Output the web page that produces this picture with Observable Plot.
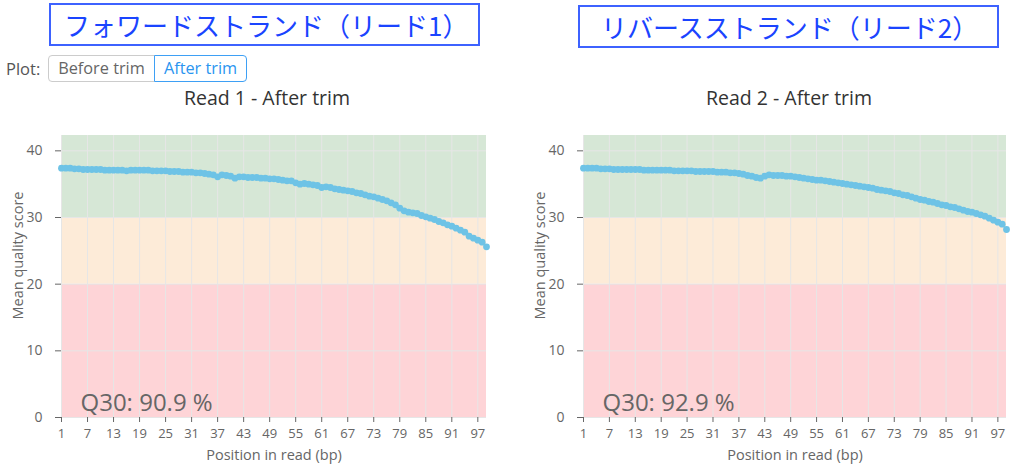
<!DOCTYPE html>
<html>
<head>
<meta charset="utf-8">
<script src="https://cdn.jsdelivr.net/npm/d3@7"></script>
<script src="https://cdn.jsdelivr.net/npm/@observablehq/plot@0.6"></script>
<style>
  body { margin: 0; background: #fff; font-family: "Open Sans", Roboto, sans-serif; }
  #page { position: relative; width: 1024px; height: 469px; overflow: hidden; background: #fff; }
  .box { position: absolute; border: 2px solid #3d62ff; color: #1a44ff; font-family: "Noto Sans CJK JP", sans-serif; font-size: 26px; line-height: 39px; box-sizing: border-box; white-space: nowrap; }
  .ptitle { position: absolute; width: 300px; text-align: center; font-size: 19.5px; color: #333; }
  .plotlbl { position: absolute; left: 6px; top: 57px; font-size: 16.5px; color: #555; }
  .btn { position: absolute; top: 55px; height: 27px; box-sizing: border-box; font-size: 16.3px; line-height: 25px; text-align: center; border: 1px solid #ccc; color: #666; background: #fff; }
  .chart { position: absolute; top: 120px; }
</style>
</head>
<body>
<div id="page">
  <div class="box" style="left:49px; top:3px; width:431px; height:43px; padding-left:13px;">フォワードストランド（リード1）</div>
  <div class="box" style="left:578px; top:5px; width:421px; height:43px; padding-left:21px;">リバースストランド（リード2）</div>
  <div class="plotlbl">Plot:</div>
  <div class="btn" style="left:48px; width:107px; border-radius:4px 0 0 4px;">Before trim</div>
  <div class="btn" style="left:154px; width:93px; border-color:#3ea0f5; color:#2a95f0; border-radius:0 4px 4px 0;">After trim</div>
  <div class="ptitle" style="left:117px; top:84px;">Read 1 - After trim</div>
  <div class="ptitle" style="left:639px; top:84px;">Read 2 - After trim</div>
  <div class="chart" id="c1" style="left:0px;"></div>
  <div class="chart" id="c2" style="left:520px;"></div>
</div>
<script>
const positions = d3.range(1, 100);
const read1 = [37.4,37.4,37.4,37.3,37.3,37.2,37.2,37.2,37.2,37.2,
  37.1,37.1,37.1,37.1,37.1,37.0,37.1,37.1,37.1,37.1,
  37.1,37.0,37.0,37.0,37.0,36.9,36.9,36.9,36.8,36.8,
  36.8,36.7,36.7,36.6,36.5,36.4,36.1,36.4,36.3,36.2,
  35.9,36.1,36.1,36.0,36.0,36.0,35.9,35.9,35.8,35.8,
  35.7,35.6,35.5,35.5,35.2,35.0,35.1,35.0,34.9,34.8,
  34.5,34.6,34.5,34.3,34.2,34.1,34.0,33.9,33.7,33.6,
  33.4,33.2,33.1,32.9,32.7,32.5,32.2,31.9,31.4,31.0,
  30.8,30.7,30.6,30.3,30.1,29.9,29.7,29.4,29.2,28.9,
  28.7,28.4,28.1,27.8,27.2,26.9,26.6,26.3,25.6];
const read2 = [37.4,37.4,37.4,37.4,37.3,37.3,37.3,37.2,37.2,37.2,
  37.2,37.2,37.2,37.2,37.1,37.1,37.1,37.1,37.1,37.1,
  37.1,37.0,37.0,37.0,37.0,37.0,36.9,36.9,36.9,36.9,
  36.9,36.8,36.8,36.8,36.7,36.7,36.6,36.5,36.3,36.2,
  36.0,35.9,36.2,36.4,36.3,36.3,36.3,36.2,36.2,36.1,
  36.0,35.9,35.8,35.7,35.6,35.6,35.5,35.4,35.3,35.2,
  35.1,35.0,34.9,34.8,34.7,34.6,34.5,34.4,34.2,34.1,
  34.0,33.9,33.7,33.6,33.4,33.3,33.1,32.9,32.7,32.6,
  32.4,32.3,32.1,31.9,31.8,31.6,31.5,31.3,31.1,30.9,
  30.8,30.6,30.4,30.2,29.9,29.6,29.3,29.0,28.2];
const xTicks = [1,7,13,19,25,31,37,43,49,55,61,67,73,79,85,91,97];
const yTicks = [0,10,20,30,40];
const zones = [
  {y1: 0, y2: 20, color: "#fed4d7"},
  {y1: 20, y2: 30, color: "#fdebd8"},
  {y1: 30, y2: 42.3, color: "#d6e7d6"}
];
const yMax = 42.3;
const q30 = ["Q30: 90.9 %", "Q30: 92.9 %"];
const xTitle = "Position in read (bp)";
const yTitle = "Mean quality score";

function makeChart(values, q, marginLeft) {
  const data = positions.map((p, i) => ({pos: p, q: values[i]}));
  return Plot.plot({
    width: 500,
    height: 347,
    marginLeft: marginLeft,
    marginRight: 14,
    marginTop: 15,
    marginBottom: 50,
    style: {fontFamily: "'Open Sans', Roboto, sans-serif", fontSize: "13px", background: "transparent"},
    x: {domain: [1, 99]},
    y: {domain: [0, yMax]},
    marks: [
      Plot.rectY(zones, {x1: 1, x2: 99, y1: "y1", y2: "y2", fill: "color"}),
      Plot.ruleX(xTicks, {stroke: "#e6e6e6", strokeWidth: 1}),
      Plot.ruleY(yTicks, {stroke: "#e6e6e6", strokeWidth: 1}),
      Plot.dot(data, {x: "pos", y: "q", r: 3.4, fill: "#6ec3e6", stroke: "none"}),
      Plot.text([q], {text: d => d, frameAnchor: "bottom-left", textAnchor: "start", lineAnchor: "bottom", dx: 19, dy: -7, fontSize: 24, fill: "#666"}),
      Plot.axisX({ticks: xTicks, tickSize: 5, tickPadding: 6, fontSize: 13, color: "#666", label: null}),
      Plot.axisY({ticks: yTicks, tickSize: 6, tickPadding: 13, fontSize: 14, color: "#666", label: null}),
      Plot.text([xTitle], {text: d => d, frameAnchor: "bottom", lineAnchor: "middle", dy: 38, fontSize: 14.5, fill: "#666"}),
      Plot.text([yTitle], {text: d => d, frameAnchor: "left", rotate: -90, textAnchor: "middle", lineAnchor: "middle", dx: -43, dy: -21, fontSize: 14.5, fill: "#666"})
    ]
  });
}
document.getElementById("c1").appendChild(makeChart(read1, q30[0], 61));
document.getElementById("c2").appendChild(makeChart(read2, q30[1], 63));
</script>
</body>
</html>
